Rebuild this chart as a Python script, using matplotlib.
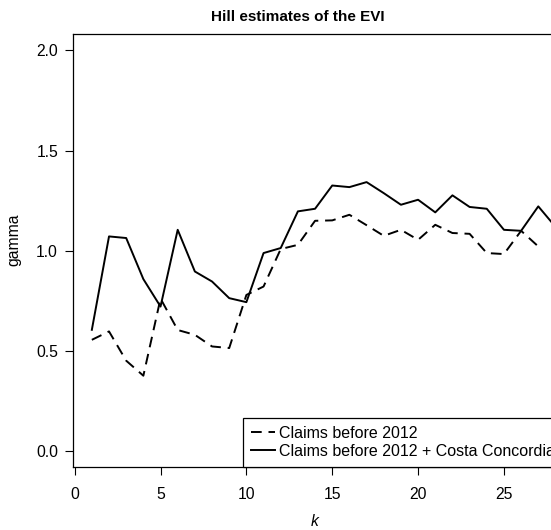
import matplotlib
matplotlib.use("Agg")
import matplotlib.pyplot as plt

# ---- data ----
k_before = list(range(1, 28))
gamma_before = [0.556, 0.598, 0.452, 0.377, 0.762, 0.605, 0.581, 0.523, 0.515, 0.780,
                0.822, 1.009, 1.030, 1.150, 1.152, 1.180, 1.128, 1.075, 1.105, 1.055,
                1.130, 1.089, 1.085, 0.989, 0.984, 1.100, 1.022]

k_costa = list(range(1, 29))
gamma_costa = [0.606, 1.072, 1.064, 0.859, 0.722, 1.105, 0.897, 0.847, 0.764, 0.744,
               0.989, 1.014, 1.197, 1.210, 1.326, 1.318, 1.343, 1.288, 1.230, 1.255,
               1.192, 1.277, 1.219, 1.210, 1.105, 1.100, 1.222, 1.120]

labels = ["Claims before 2012", "Claims before 2012 + Costa Concordia"]
x_ticks = [0, 5, 10, 15, 20, 25]
y_ticks = [0.0, 0.5, 1.0, 1.5, 2.0]
y_ticklabels = ["0.0", "0.5", "1.0", "1.5", "2.0"]
title = "Hill estimates of the EVI"

plt.rcParams['font.family'] = ['Liberation Sans', 'DejaVu Sans']

W, H = 551, 530
fig = plt.figure(figsize=(W / 100, H / 100), dpi=100)

left_px, right_px, top_px, bottom_px = 73.3, 574.0, 34.4, 467.3
ax = fig.add_axes([left_px / W, 1 - bottom_px / H,
                   (right_px - left_px) / W, (bottom_px - top_px) / H])

ax.plot(k_before, gamma_before, color='black', lw=1.4, linestyle=(0, (5.5, 3.5)),
        label=labels[0])
ax.plot(k_costa, gamma_costa, color='black', lw=1.4, linestyle='-', label=labels[1])

ax.set_xlim(-0.08, 29.08)
ax.set_ylim(-0.08, 2.08)
ax.set_xticks(x_ticks)
ax.set_yticks(y_ticks)
ax.set_yticklabels(y_ticklabels)
ax.tick_params(axis='both', direction='out', length=6, width=0.8, labelsize=11.3,
               color='black')
ax.tick_params(axis='x', pad=8)
ax.tick_params(axis='y', pad=5)
for s in ax.spines.values():
    s.set_linewidth(0.9)
    s.set_color('black')

ax.set_ylabel('gamma', fontsize=11.3)
ax.yaxis.set_label_coords((21 - left_px) / (right_px - left_px),
                          (bottom_px - 240) / (bottom_px - top_px))
ax.set_xlabel('k', fontsize=11.3, style='italic')
ax.xaxis.set_label_coords((315 - left_px) / (right_px - left_px),
                          (bottom_px - 514) / (bottom_px - top_px))

fig.text(298 / W, 1 - 17 / H, title, fontsize=11, fontweight='bold',
         ha='center', va='center')

leg = ax.legend(loc='lower left', bbox_to_anchor=(242.7 / W, 1 - 466.7 / H),
                bbox_transform=fig.transFigure, borderaxespad=0, fontsize=11.5,
                frameon=True, fancybox=False, edgecolor='black', framealpha=1,
                handlelength=1.5, handletextpad=0.3, borderpad=0.5,
                labelspacing=0.2)
leg.get_frame().set_linewidth(0.9)

fig.savefig('out.png', dpi=100)
